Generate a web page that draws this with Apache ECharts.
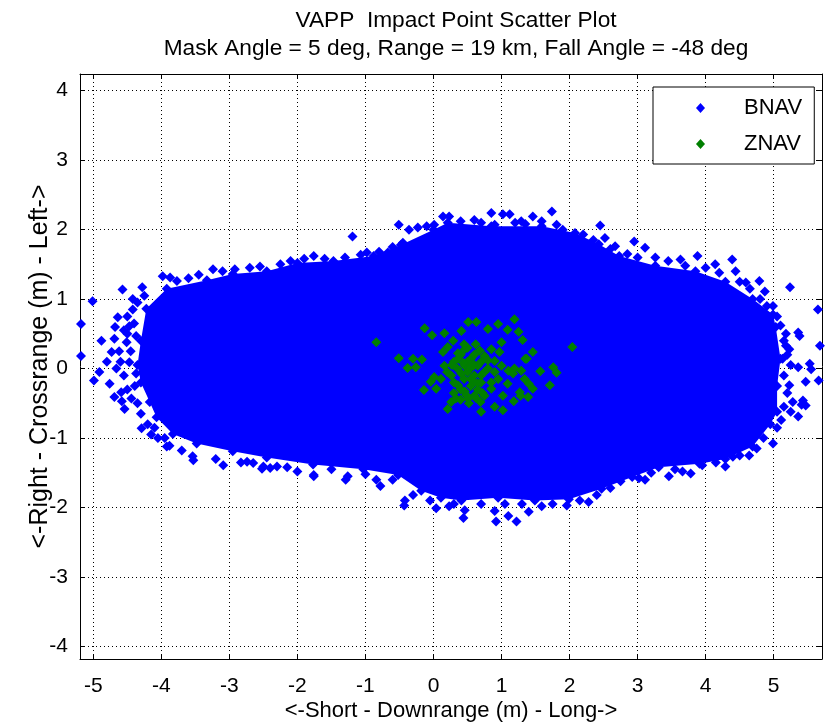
<!DOCTYPE html>
<html lang="en">
<head>
    <meta charset="utf-8">
    <title>VAPP Impact Point Scatter Plot</title>
    <style>html,body{margin:0;padding:0;background:#fff;}</style>
</head>
<body>
<script src="https://cdn.jsdelivr.net/npm/echarts@6/dist/echarts.min.js"></script>
<div id="main" style="width: 826px;height: 727px"></div>
<script>
    // tick positions
    var xTicks = [-5, -4, -3, -2, -1, 0, 1, 2, 3, 4, 5];
    var yTicks = [-4, -3, -2, -1, 0, 1, 2, 3, 4];

    // outline of the solid part of the BNAV cloud (too dense to list point by point)
    var bnavCore = [
        [-4.35, 0.05], [-4.3, 0.4], [-4.22, 0.86], [-3.92, 1.15], [-3.33, 1.27], [-2.95, 1.36],
        [-2.45, 1.40], [-2.0, 1.52], [-1.47, 1.55], [-0.88, 1.62], [-0.48, 1.78], [0.0, 2.0],
        [0.21, 2.1], [0.85, 2.05], [1.59, 2.05], [2.08, 1.95], [2.43, 1.79], [2.73, 1.62],
        [3.26, 1.48], [3.85, 1.4], [4.29, 1.25], [4.69, 1.0], [4.99, 0.78], [5.03, 0.6],
        [5.1, 0.14], [5.05, -0.25], [5.05, -0.62], [4.95, -0.8], [4.69, -1.12], [4.29, -1.3],
        [3.91, -1.37], [3.31, -1.42], [2.92, -1.56], [2.47, -1.73], [1.99, -1.88], [1.49, -1.9],
        [0.95, -1.86], [0.41, -1.9], [0.11, -1.86], [-0.18, -1.76], [-0.52, -1.53], [-1.03, -1.45],
        [-1.77, -1.38], [-2.45, -1.28], [-2.95, -1.19], [-3.48, -1.08], [-3.83, -0.94], [-4.07, -0.7],
        [-4.17, -0.48], [-4.3, -0.2]
    ];

    // loose BNAV points around the edge of the cloud
    var bnavEdge = [
        [-5.01, 0.97], [-5.18, 0.64], [-5.18, 0.18], [-4.99, -0.17], [-4.88, 0.40], [-4.91, -0.05],
        [-4.76, -0.22], [-4.73, 0.24], [-4.64, 0.74], [-4.57, 1.14], [-4.28, 1.17], [-4.69, -0.41],
        [-4.59, -0.34], [-4.54, -0.58], [-4.29, -0.86], [-4.62, 0.25], [-4.69, 0.43], [-4.51, 0.38],
        [-4.47, 0.61], [-4.42, 0.85], [-4.47, 0.09], [-4.37, 0.47], [-4.39, -0.25], [-4.44, -0.43],
        [-4.37, -0.07], [-3.88, -1.11], [-3.98, 1.33], [-3.77, 1.26], [-3.54, -1.26], [-3.09, -1.39],
        [-2.74, -1.34], [-2.5, -1.41], [-2.4, -1.43], [-2.0, -1.48], [-1.76, -1.55], [-1.29, -1.6],
        [-1.19, 1.90], [-3.87, 1.31], [-3.24, 1.43], [-2.92, 1.43], [-2.55, 1.47], [-2.25, 1.5],
        [-1.76, 1.62], [-1.07, 1.64], [-0.98, 1.67], [-0.67, 1.67], [-0.51, 2.07], [-0.36, 2.0],
        [-0.23, 2.03], [0.01, 2.07], [0.14, 2.19], [-0.45, 1.81], [-0.35, 1.75], [0.23, 2.19],
        [0.6, 2.14], [0.85, 2.24], [1.02, 2.22], [1.12, 2.22], [0.9, 2.07], [1.29, 2.12],
        [1.46, 2.19], [1.59, 2.12], [1.74, 2.26], [1.81, 2.07], [2.45, 2.06], [2.52, 1.88],
        [2.67, 1.76], [2.95, 1.83], [3.11, 1.74], [3.26, 1.6], [3.63, 1.57], [3.88, 1.62],
        [4.14, 1.5], [4.39, 1.57], [4.44, 1.4], [4.59, 1.24], [4.79, 1.26], [4.87, 1.11],
        [5.24, 1.17], [5.65, 0.85], [4.99, 0.9], [5.68, 0.33], [5.36, 0.52], [5.38, 0.47],
        [5.18, 0.5], [5.23, 0.28], [5.36, 0.02], [5.53, 0.07], [5.55, -0.01], [5.66, -0.17],
        [5.47, -0.19], [5.23, -0.24], [5.28, -0.48], [5.43, -0.46], [5.41, -0.52], [5.36, -0.69],
        [5.11, -0.74], [4.99, -1.08], [4.64, -1.25], [4.4, -1.27], [3.95, -1.39], [3.66, -1.48],
        [3.46, -1.55], [3.11, -1.6], [5.13, 0.14], [5.18, 0.33], [5.47, -0.53], [4.29, -1.41],
        [3.78, -1.51], [3.02, -1.58], [2.28, -1.92], [1.96, -1.97], [1.59, -1.98], [1.4, -2.06],
        [1.22, -2.2], [1.1, -2.12], [0.92, -2.2], [0.9, -2.05], [0.44, -2.15], [0.46, -2.04],
        [0.23, -1.98], [0.04, -2.01], [-0.43, -1.97], [-0.42, -1.9], [-0.78, -1.69], [-0.84, -1.6],
        [-1.26, -1.55], [-1.76, -1.53], [-2.3, -1.41], [-2.52, -1.44], [-2.83, -1.35], [-3.53, -1.32],
        [-3.92, -1.12]
    ];

    // overlapping BNAV points that make the ragged rim between core and loose points
    var bnavRim = [
        [-4.55, 0.55], [-4.6, 0.1], [-4.55, -0.1], [-4.5, -0.3], [-4.45, 0.25], [-4.5, 0.75],
        [-4.4, 0.65], [-4.35, -0.5], [-4.3, -0.65], [-4.42, 1.0], [-4.35, 0.95], [-4.25, 1.05],
        [-4.2, -0.8], [-4.15, -0.95], [-4.05, -1.0], [-4.66, 0.0], [-4.8, 0.1], [-4.58, -0.47],
        [-4.68, 0.6], [-4.5, 0.5], [-3.6, 1.3], [-3.45, 1.35], [-3.1, 1.4], [-2.7, 1.45],
        [-2.1, 1.55], [-1.9, 1.58], [-1.6, 1.58], [-1.3, 1.6], [-0.8, 1.68], [-0.6, 1.75],
        [-0.1, 2.05], [0.4, 2.12], [0.7, 2.1], [1.2, 2.1], [1.35, 2.08], [1.9, 2.0],
        [2.2, 1.93], [2.35, 1.85], [2.6, 1.72], [2.85, 1.65], [3.0, 1.6], [3.45, 1.55],
        [3.7, 1.48], [4.0, 1.45], [4.2, 1.38], [4.5, 1.25], [4.65, 1.15], [4.8, 1.0],
        [4.9, 0.9], [5.05, 0.75], [5.1, 0.62], [5.15, 0.4], [5.2, 0.2], [5.25, 0.05],
        [5.15, -0.1], [5.2, -0.35], [5.15, -0.55], [5.25, -0.62], [5.05, -0.85], [4.85, -1.0],
        [4.75, -1.15], [4.5, -1.25], [4.15, -1.35], [3.55, -1.45], [3.2, -1.5], [2.75, -1.62],
        [2.6, -1.72], [2.4, -1.82], [2.15, -1.9], [1.75, -1.95], [1.3, -1.95], [1.05, -1.95],
        [0.7, -1.95], [0.3, -1.95], [-0.05, -1.9], [-0.3, -1.82], [-0.6, -1.6], [-1.0, -1.52],
        [-1.5, -1.45], [-2.15, -1.42], [-2.65, -1.36], [-3.2, -1.3], [-3.7, -1.18], [-3.95, -1.0],
        [-4.1, -0.85]
    ];

    // ZNAV impact points
    var znavPoints = [
        [-0.84, 0.38], [2.04, 0.31], [-0.51, 0.15], [-0.38, 0.01], [-0.3, 0.14], [-0.26, 0.02],
        [-0.17, 0.13], [-0.13, 0.58], [-0.02, 0.48], [0.16, 0.51], [0.41, 0.54], [0.51, 0.67],
        [0.63, 0.67], [0.8, 0.57], [0.95, 0.64], [1.19, 0.71], [1.09, 0.56], [1.25, 0.53],
        [1.31, 0.41], [1.46, 0.24], [1.37, 0.14], [1.57, -0.04], [1.71, -0.24], [1.76, 0.02],
        [1.81, -0.06], [1.46, -0.29], [1.39, -0.41], [1.28, -0.39], [1.18, -0.47], [1.02, -0.6],
        [0.9, -0.55], [0.7, -0.62], [0.69, -0.48], [0.21, -0.58], [-0.14, -0.31], [0.01, -0.12],
        [0.11, -0.15], [1.19, 0.0], [1.35, 0.14], [1.0, 0.38], [0.97, 0.24], [0.85, 0.28],
        [0.46, 0.28], [0.29, 0.4], [0.21, 0.31], [0.14, 0.24], [0.16, 0.04], [0.26, -0.1],
        [0.36, -0.24], [0.46, -0.33], [0.55, -0.15], [0.65, 0.04], [0.7, -0.1], [0.8, 0.0],
        [0.46, 0.04], [0.55, 0.14], [0.36, 0.14], [0.75, 0.18], [0.9, 0.11], [0.95, -0.15],
        [0.85, -0.29], [0.6, -0.39], [0.51, -0.43], [0.41, -0.07], [0.65, -0.21], [0.75, -0.39],
        [0.04, -0.29], [-0.04, -0.19], [1.0, 0.04], [1.1, -0.03], [1.29, -0.03], [1.17, -0.07],
        [1.34, -0.15], [1.4, -0.22], [1.27, -0.34], [1.09, -0.22], [1.02, -0.39], [0.33, -0.43],
        [0.26, -0.48], [0.3, 0.1], [0.4, 0.2], [0.5, 0.1], [0.6, 0.2], [0.7, 0.1], [0.5, -0.05],
        [0.6, -0.1], [0.45, -0.15], [0.55, -0.25], [0.65, -0.3], [0.4, -0.3], [0.3, -0.2],
        [0.2, -0.05], [0.35, 0.0], [0.75, -0.05], [0.85, -0.2], [0.6, 0.05], [0.5, 0.3],
        [0.62, -0.42], [0.48, -0.38], [0.7, -0.2], [0.8, 0.12], [0.9, -0.05], [0.56, 0.02],
        [0.44, 0.08], [0.68, 0.26], [0.36, 0.22], [0.27, 0.05], [0.58, -0.18], [0.72, -0.35],
        [0.52, -0.5], [0.4, -0.45], [0.62, 0.35], [0.45, 0.35], [0.3, -0.35]
    ];

    var font = "'Liberation Sans', Arial, sans-serif";
    var xRange = [-5.195, 5.71];
    var yRange = [-4.18, 4.24];

    function axisBase(pos, range, ticks, withLabels) {
        return {
            type: 'value',
            position: pos,
            min: range[0],
            max: range[1],
            minInterval: 1,
            maxInterval: 1,
            splitNumber: 10,
            axisLine: {show: true, onZero: false, lineStyle: {color: '#000', width: 1}},
            axisTick: {show: true, inside: true, length: 5, customValues: ticks, lineStyle: {color: '#000', width: 1}},
            axisLabel: {show: withLabels, customValues: ticks, margin: 12, fontSize: 21, fontFamily: font, color: '#000'},
            splitLine: {show: withLabels, lineStyle: {color: '#000', width: 1, type: [1, 3]}}
        };
    }

    var xBottom = axisBase('bottom', xRange, xTicks, true);
    xBottom.axisLabel.margin = 17;
    xBottom.name = '<-Short - Downrange (m) - Long->';
    xBottom.nameLocation = 'middle';
    xBottom.nameGap = 41;
    xBottom.nameMoveOverlap = false;
    xBottom.nameTextStyle = {fontSize: 22, fontFamily: font, color: '#000'};

    var yLeft = axisBase('left', yRange, yTicks, true);
    yLeft.name = '<-Right - Crossrange (m) - Left->';
    yLeft.nameLocation = 'middle';
    yLeft.nameGap = 27;
    yLeft.nameMoveOverlap = false;
    yLeft.nameTextStyle = {fontSize: 25, fontFamily: font, color: '#000'};

    var chart = echarts.init(document.getElementById('main'));
    var option = {
        animation: false,
        backgroundColor: '#fff',
        title: {
            text: 'VAPP  Impact Point Scatter Plot\nMask Angle = 5 deg, Range = 19 km, Fall Angle = -48 deg',
            left: 451,
            top: 2,
            textAlign: 'center',
            textStyle: {fontSize: 22.7, fontWeight: 'normal', fontFamily: font, color: '#000', lineHeight: 28}
        },
        legend: {
            orient: 'vertical',
            left: 653,
            top: 87,
            padding: [10, 12, 9, 43],
            itemWidth: 9,
            itemHeight: 10,
            itemGap: 14,
            borderColor: '#000',
            borderWidth: 1,
            backgroundColor: '#fff',
            textStyle: {fontSize: 22, fontFamily: font, color: '#000', lineHeight: 20, padding: [0, 0, 0, 34]},
            data: [{name: 'BNAV', icon: 'diamond'}, {name: 'ZNAV', icon: 'diamond'}]
        },
        grid: {left: 80, right: 4, top: 74, bottom: 65},
        xAxis: [xBottom, axisBase('top', xRange, xTicks, false)],
        yAxis: [yLeft, axisBase('right', yRange, yTicks, false)],
        series: [{
            name: 'BNAV',
            type: 'custom',
            xAxisIndex: 0,
            yAxisIndex: 0,
            encode: {x: 0, y: 1},
            itemStyle: {color: '#0000ff'},
            data: bnavCore,
            renderItem: function (params, api) {
                if (params.dataIndex !== 0) return;
                var pts = bnavCore.map(function (p) { return api.coord(p); });
                return {type: 'polygon', shape: {points: pts}, style: {fill: '#0000ff'}};
            }
        }, {
            name: 'BNAV',
            type: 'scatter',
            symbol: 'diamond',
            symbolSize: 10,
            itemStyle: {color: '#0000ff', opacity: 1},
            data: bnavEdge.concat(bnavRim, bnavCore)
        }, {
            name: 'ZNAV',
            type: 'scatter',
            symbol: 'diamond',
            symbolSize: 10,
            itemStyle: {color: '#007f00', opacity: 1},
            data: znavPoints
        }]
    };
    chart.setOption(option);
</script>
</body>
</html>
